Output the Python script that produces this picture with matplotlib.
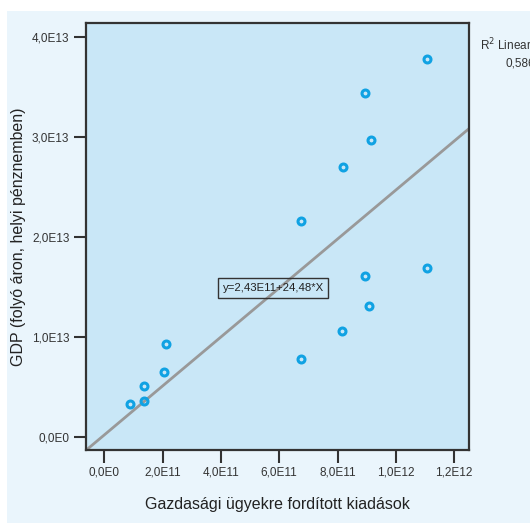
import matplotlib as mpl
mpl.use('Agg')
import matplotlib.pyplot as plt
import matplotlib.patches as patches

# data (x: expenditure, y: GDP)
spend = [0.88e11, 1.37e11, 1.37e11, 2.05e11, 2.12e11, 6.76e11, 6.76e11,
         8.16e11, 8.20e11, 8.95e11, 8.95e11, 9.09e11, 9.15e11, 11.06e11,
         11.06e11]
gdp = [0.333e13, 0.363e13, 0.513e13, 0.653e13, 0.933e13, 0.783e13, 2.163e13,
       1.063e13, 2.706e13, 1.613e13, 3.443e13, 1.313e13, 2.973e13, 1.693e13,
       3.783e13]

intercept = 2.43e11
slope = 24.48
r2 = "0,586"

xticks = [0, 2e11, 4e11, 6e11, 8e11, 10e11, 12e11]
xticklabels = ["0,0E0", "2,0E11", "4,0E11", "6,0E11", "8,0E11", "1,0E12", "1,2E12"]
yticks = [0, 1e13, 2e13, 3e13, 4e13]
yticklabels = ["0,0E0", "1,0E13", "2,0E13", "3,0E13", "4,0E13"]

plt.rcParams['font.family'] = ['Liberation Sans', 'DejaVu Sans']
small = 8.5

fig = plt.figure(figsize=(5.3, 5.24), dpi=100)
fig.patch.set_facecolor('white')
# light outer panel behind everything
panel = patches.Rectangle((7 / 530, 0.002), 1, (524 - 11) / 524 - 0.002,
                          transform=fig.transFigure, facecolor='#eaf5fc',
                          edgecolor='none', zorder=-10)
fig.add_artist(panel)

ax = fig.add_axes([86 / 530, 74 / 524, 383 / 530, 427 / 524])
ax.set_facecolor('#c9e7f7')
ax.set_xlim(-0.63e11, 1.251e12)
ax.set_ylim(-0.127e13, 4.143e13)

ax.axline((0, intercept), slope=slope, color='#999999', lw=2, zorder=2)
ax.plot(spend, gdp, 'o', ls='none', ms=5, mfc='none', mec='#10a2e3', mew=2.2, zorder=3)

ax.text(5.79e11, 1.493e13, "y=2,43E11+24,48*X", ha='center', va='center',
        fontsize=8.2, color='#222222', zorder=4,
        bbox=dict(boxstyle='square,pad=0.4', fc='none', ec='#333333', lw=1))

ax.set_xticks(xticks)
ax.set_xticklabels(xticklabels, fontsize=small, color='#333333')
ax.set_yticks(yticks)
ax.set_yticklabels(yticklabels, fontsize=small, color='#333333')
ax.tick_params(direction='out', length=9, width=1.5, color='#333333', pad=3)
for s in ax.spines.values():
    s.set_color('#333333')
    s.set_linewidth(1.6)

ax.set_xlabel("Gazdasági ügyekre fordított kiadások", fontsize=11.5, color='#222222')
ax.xaxis.set_label_coords(0.5, -(505 - 450) / 427, transform=ax.transAxes)
ax.xaxis.label.set_va('center')
ax.set_ylabel("GDP (folyó áron, helyi pénznemben)", fontsize=11.5, color='#222222')
ax.yaxis.set_label_coords(-(86 - 18) / 383, 0.5, transform=ax.transAxes)
ax.yaxis.label.set_va('center')

fig.text(480 / 530, 1 - 45 / 524, "R$^2$ Linear =", fontsize=small,
         color='#333333', va='center', ha='left')
fig.text(505 / 530, 1 - 64 / 524, r2, fontsize=small,
         color='#333333', va='center', ha='left')

fig.savefig('out.png', dpi=100, facecolor=fig.get_facecolor())
